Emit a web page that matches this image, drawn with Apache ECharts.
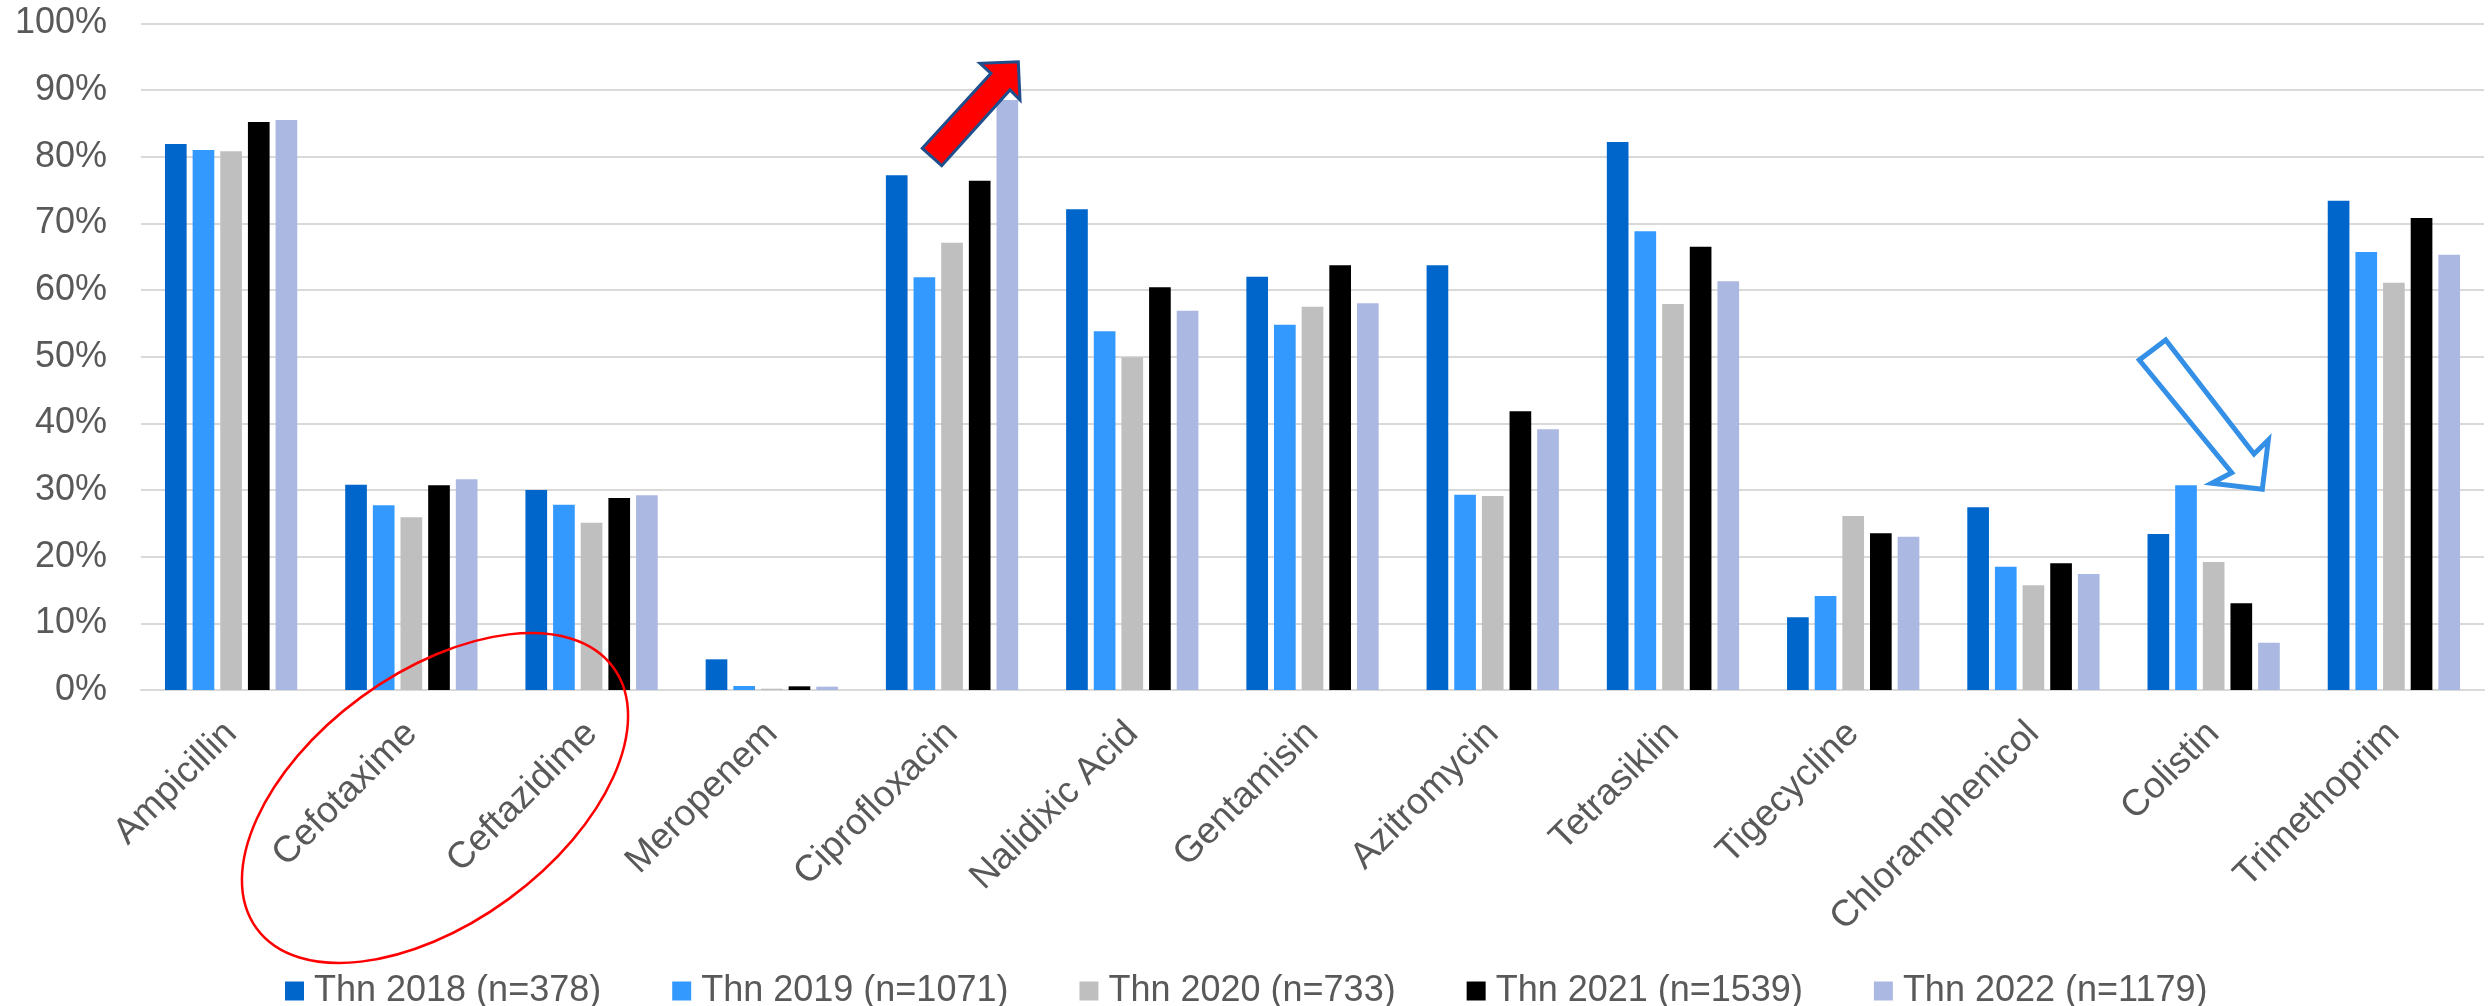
<!DOCTYPE html>
<html>
<head>
<meta charset="utf-8">
<script src="https://cdn.jsdelivr.net/npm/echarts@6/dist/echarts.min.js"></script>
<style>
html,body{margin:0;padding:0;background:#fff;}
#chart{width:2489px;height:1006px;}
</style>
</head>
<body>
<div id="chart"></div>
<script>
const categories = ['Ampicillin','Cefotaxime','Ceftazidime','Meropenem','Ciprofloxacin','Nalidixic Acid','Gentamisin','Azitromycin','Tetrasiklin','Tigecycline','Chloramphenicol','Colistin','Trimethoprim'];
const seriesNames = ['Thn 2018 (n=378)','Thn 2019 (n=1071)','Thn 2020 (n=733)','Thn 2021 (n=1539)','Thn 2022 (n=1179)'];
const y2018 = [81.9, 30.8, 30.0, 4.6, 77.2, 72.1, 62.0, 63.7, 82.2, 10.9, 27.4, 23.4, 73.4];
const y2019 = [81.0, 27.7, 27.8, 0.6, 61.9, 53.8, 54.8, 29.3, 68.8, 14.1, 18.5, 30.7, 65.7];
const y2020 = [80.8, 25.9, 25.1, 0.2, 67.1, 49.9, 57.5, 29.1, 57.9, 26.1, 15.7, 19.2, 61.1];
const y2021 = [85.2, 30.7, 28.8, 0.55, 76.4, 60.4, 63.7, 41.8, 66.5, 23.5, 19.0, 13.0, 70.8];
const y2022 = [85.5, 31.6, 29.2, 0.5, 88.5, 56.9, 58.0, 39.1, 61.3, 23.0, 17.4, 7.1, 65.3];
const yTicks = [0,10,20,30,40,50,60,70,80,90,100];
const colors = ['#0066CC','#3399FF','#BFBFBF','#000000','#ABB8E1'];

const FONT = '"Liberation Sans", Arial, sans-serif';
const allData = [y2018, y2019, y2020, y2021, y2022];

const chart = echarts.init(document.getElementById('chart'), null, {renderer:'canvas'});
const series = allData.map((d, i) => ({
  name: seriesNames[i],
  type: 'bar',
  data: d,
  itemStyle: {color: colors[i]},
  barGap: '27.6%',
  barCategoryGap: '26.6%'
}));

const deg = Math.PI / 180;
chart.setOption({
  animation: false,
  backgroundColor: '#ffffff',
  color: colors,
  grid: {left: 141, right: 5, top: 23.3, bottom: 316, containLabel: false},
  legend: {
    data: seriesNames,
    left: 280,
    top: 968,
    itemWidth: 19,
    itemHeight: 19,
    itemGap: 71,
    icon: 'rect',
    textStyle: {fontFamily: FONT, fontSize: 36, color: '#595959', padding: [0,0,0,5]}
  },
  xAxis: {
    type: 'category',
    data: categories,
    axisLine: {lineStyle: {color: '#D9D9D9', width: 2}},
    axisTick: {show: false},
    axisLabel: {
      interval: 0,
      rotate: 45,
      margin: 38,
      padding: [18, 0, 0, 0],
      fontFamily: FONT,
      fontSize: 37,
      color: '#595959'
    }
  },
  yAxis: {
    type: 'value',
    min: yTicks[0],
    max: yTicks[yTicks.length - 1],
    interval: 10,
    axisLine: {show: false},
    axisTick: {show: false},
    splitLine: {lineStyle: {color: '#D9D9D9', width: 2}},
    axisLabel: {
      margin: 34,
      formatter: '{value}%',
      fontFamily: FONT,
      fontSize: 36,
      color: '#595959'
    }
  },
  series: series,
  graphic: [
    {
      type: 'ellipse',
      x: 435, y: 798,
      rotation: 36.2 * deg,
      shape: {cx: 0, cy: 0, rx: 221, ry: 125},
      style: {fill: 'none', stroke: '#FF0000', lineWidth: 2.5},
      z: 100
    },
    {
      type: 'polygon',
      shape: {points: [[922.3,148.3],[991,73.3],[980,63.3],[1018.3,61.7],[1020,100],[1010,90],[941.7,165.7]]},
      style: {fill: '#FF0000', stroke: '#1F4E8C', lineWidth: 3},
      z: 100
    },
    {
      type: 'polygon',
      shape: {points: [[2165.7,340],[2139.3,360],[2231.7,472.7],[2211.7,483.3],[2262.3,489.3],[2268.3,440],[2254,454]]},
      style: {fill: '#FFFFFF', stroke: '#3390E6', lineWidth: 5},
      z: 100
    }
  ]
});
</script>
</body>
</html>
